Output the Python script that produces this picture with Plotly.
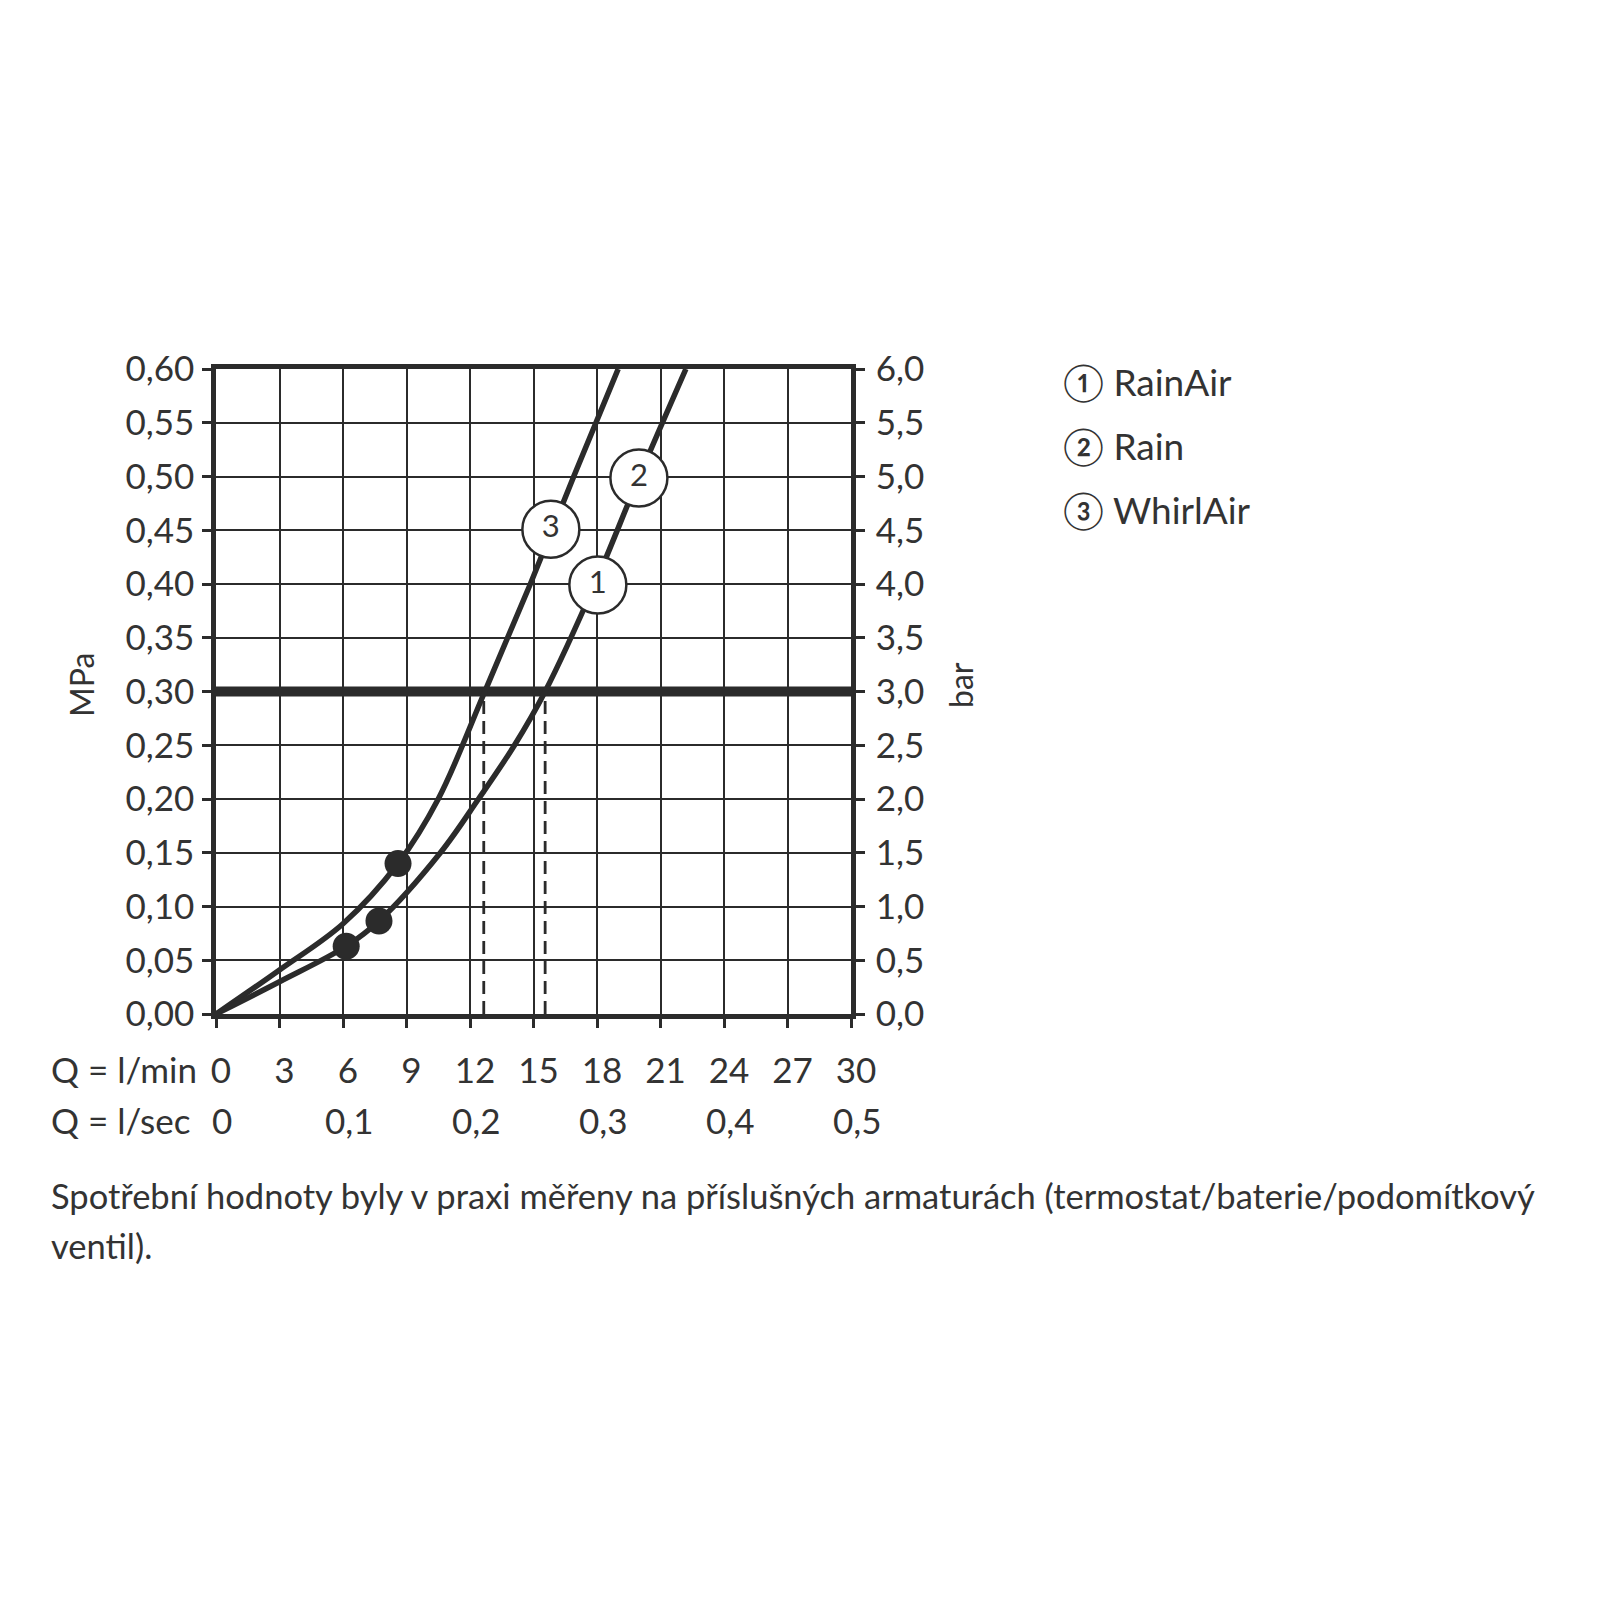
import plotly.graph_objects as go

# ---------------- data ----------------
q_lmin_ticks = [0, 3, 6, 9, 12, 15, 18, 21, 24, 27, 30]
q_lsec_pos = [0, 6, 12, 18, 24, 30]
q_lsec_labels = ["0", "0,1", "0,2", "0,3", "0,4", "0,5"]
mpa_ticks = [0.00, 0.05, 0.10, 0.15, 0.20, 0.25, 0.30, 0.35, 0.40, 0.45, 0.50, 0.55, 0.60]
bar_ticks = [0.0, 0.5, 1.0, 1.5, 2.0, 2.5, 3.0, 3.5, 4.0, 4.5, 5.0, 5.5, 6.0]

# curve 3 (WhirlAir)
whirlair_q = [0, 3, 6, 8.6, 10.5, 12.7, 14.85, 16.9, 19.0]
whirlair_p = [0, 0.041, 0.084, 0.14, 0.20, 0.30, 0.40, 0.50, 0.60]

# curves 1 / 2 (RainAir, Rain)
rain_q = [0, 3, 6.15, 7.7, 10.6, 12.4, 14.1, 15.55, 17.9, 20.0, 22.2]
rain_p = [0, 0.030, 0.063, 0.0865, 0.15, 0.20, 0.25, 0.30, 0.40, 0.50, 0.60]

# measured points (black dots)
dots_q = [8.6, 7.7, 6.15]
dots_p = [0.14, 0.0865, 0.063]

# numbered curve labels
label_q = [18.04, 19.98, 15.82]
label_p = [0.399, 0.4986, 0.451]
label_text = ["1", "2", "3"]

legend_items = ["\u2460 RainAir", "\u2461 Rain", "\u2462 WhirlAir"]

nominal_pressure = 0.30
dashed_q = [12.65, 15.55]

footnote_lines = ["Spotřební hodnoty byly v praxi měřeny na příslušných armaturách "
                  "(termostat/baterie/podomítkový",
                  "ventil)."]

# ---------------- style / layout helpers ----------------
INK = "#2b2b2b"
TXT = "#333333"
FONT = "Lato"

OFF = 7                      # page offset of the figure
PL, PT, PW, PH = 208, 361, 635, 645


def px(xp):
    return (xp - OFF - PL) / PW


def py(yp):
    return (PT + PH - (yp - OFF)) / PH


fig = go.Figure()

fig.add_trace(go.Scatter(x=[0, 30], y=[nominal_pressure, nominal_pressure], mode="lines",
                         line=dict(color=INK, width=10), hoverinfo="skip", showlegend=False))

for q in dashed_q:
    fig.add_trace(go.Scatter(x=[q, q], y=[0, nominal_pressure], mode="lines",
                             line=dict(color=INK, width=2.8, dash="13px,7px"),
                             hoverinfo="skip", showlegend=False))

fig.add_trace(go.Scatter(x=whirlair_q, y=whirlair_p, mode="lines",
                         line=dict(color=INK, width=5.5, shape="spline", smoothing=1.0),
                         showlegend=False))
fig.add_trace(go.Scatter(x=rain_q, y=rain_p, mode="lines",
                         line=dict(color=INK, width=5.5, shape="spline", smoothing=1.0),
                         showlegend=False))

fig.add_trace(go.Scatter(x=dots_q, y=dots_p, mode="markers",
                         marker=dict(color=INK, size=27, line=dict(width=0)),
                         showlegend=False))

fig.add_trace(go.Scatter(x=label_q, y=label_p, mode="markers+text", text=label_text,
                         textposition="middle center",
                         textfont=dict(family=FONT, size=31, color=TXT),
                         marker=dict(color="white", size=57, line=dict(color=INK, width=2.5)),
                         showlegend=False))

fig.add_trace(go.Scatter(x=[0, 30], y=[0, 6], yaxis="y2", mode="markers",
                         marker=dict(opacity=0), hoverinfo="skip", showlegend=False))

tickfont = dict(family=FONT, size=35, color=TXT)

fig.update_layout(
    width=1600, height=1600,
    margin=dict(l=PL, r=1600 - PL - PW, t=PT, b=1600 - PT - PH),
    paper_bgcolor="white", plot_bgcolor="white",
    separators=",.",
    showlegend=False,
    xaxis=dict(range=[0, 30], tickvals=q_lmin_ticks, ticktext=[str(v) for v in q_lmin_ticks],
               showgrid=True, gridcolor=INK, gridwidth=2.3, zeroline=False,
               showline=True, linecolor=INK, linewidth=4.5, mirror=True,
               ticks="outside", ticklen=9, tickwidth=2.5, tickcolor=INK,
               tickfont=tickfont, ticklabelstandoff=13, ticklabelshift=5),
    yaxis=dict(range=[0, 0.6], tickvals=mpa_ticks, tickformat=".2f",
               showgrid=True, gridcolor=INK, gridwidth=2.3, zeroline=False,
               showline=True, linecolor=INK, linewidth=4.5, mirror=True,
               ticks="outside", ticklen=9, tickwidth=2.5, tickcolor=INK,
               tickfont=tickfont, ticklabelstandoff=1),
    yaxis2=dict(range=[0, 6], tickvals=bar_ticks, tickformat=".1f", overlaying="y", side="right",
                showgrid=False, zeroline=False, showline=True, linecolor=INK, linewidth=4.5,
                ticks="outside", ticklen=9, tickwidth=2.5, tickcolor=INK,
                tickfont=tickfont, ticklabelstandoff=4),
)

ann = []
ann.append(dict(text="MPa", x=px(80), y=py(684), xref="paper", yref="paper",
                textangle=-90, showarrow=False, font=dict(family=FONT, size=32, color=TXT),
                xanchor="center", yanchor="middle"))
ann.append(dict(text="bar", x=px(959), y=py(684), xref="paper", yref="paper",
                textangle=-90, showarrow=False, font=dict(family=FONT, size=32, color=TXT),
                xanchor="center", yanchor="middle"))
ann.append(dict(text="Q = l/min", x=px(48), y=py(1068), xref="paper", yref="paper",
                showarrow=False, font=tickfont, xanchor="left", yanchor="middle"))
ann.append(dict(text="Q = l/sec", x=px(48), y=py(1119), xref="paper", yref="paper",
                showarrow=False, font=tickfont, xanchor="left", yanchor="middle"))
for q, lab in zip(q_lsec_pos, q_lsec_labels):
    ann.append(dict(text=lab, x=q, y=py(1119), xref="x", yref="paper", xshift=6,
                    showarrow=False, font=tickfont, xanchor="center", yanchor="middle"))
for i, item in enumerate(legend_items):
    ann.append(dict(text=item, x=px(1060), y=py(380 + 64 * i), xref="paper", yref="paper",
                    showarrow=False, font=dict(family=FONT, size=37, color=TXT),
                    xanchor="left", yanchor="middle"))
for i, line in enumerate(footnote_lines):
    ann.append(dict(text=line, x=px(48), y=py(1194 + 50 * i), xref="paper", yref="paper",
                    showarrow=False, font=dict(family=FONT, size=34.5, color=TXT),
                    xanchor="left", yanchor="middle", align="left"))
fig.update_layout(annotations=ann)

fig.write_html("out.html")
